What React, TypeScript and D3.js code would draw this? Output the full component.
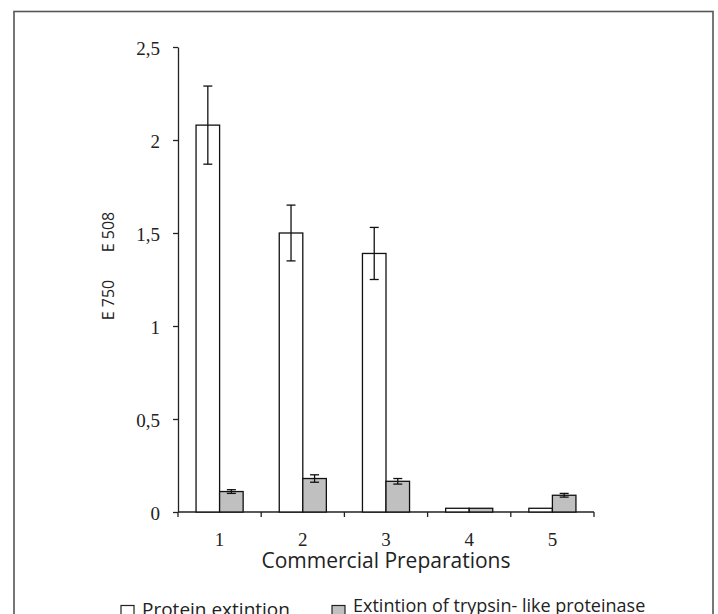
import { useEffect, useRef } from "react";
import * as d3 from "d3";

const categories = ["1", "2", "3", "4", "5"];
const proteinValues = [2.08, 1.5, 1.39, 0.02, 0.02];
const proteinErrors = [0.21, 0.15, 0.14, 0, 0];
const trypsinValues = [0.11, 0.18, 0.165, 0.02, 0.09];
const trypsinErrors = [0.01, 0.02, 0.015, 0, 0.01];
const yTicks = [0, 0.5, 1, 1.5, 2, 2.5];

const W = 718;
const H = 614;
const PLOT = { left: 178, right: 594, top: 47, bottom: 512 };

export default function App() {
  const svgRef = useRef<SVGSVGElement>(null);

  useEffect(() => {
    if (!svgRef.current) return;
    const svg = d3.select(svgRef.current);
    svg.selectAll("*").remove();

    // frame
    svg
      .append("rect")
      .attr("x", 14)
      .attr("y", 11.5)
      .attr("width", 699)
      .attr("height", H)
      .attr("fill", "#fff")
      .attr("stroke", "#555")
      .attr("stroke-width", 1.6);

    const x = d3
      .scaleBand<string>()
      .domain(categories)
      .range([PLOT.left, PLOT.right])
      .padding(0);

    const y = d3
      .scaleLinear()
      .domain([0, 2.5])
      .range([PLOT.bottom, PLOT.top]);

    const barW = x.bandwidth() * 0.283;

    // Y axis
    const yAxis = svg
      .append("g")
      .attr("transform", `translate(${PLOT.left},0)`)
      .call(
        d3
          .axisLeft(y)
          .tickValues(yTicks)
          .tickSize(5)
          .tickSizeOuter(0)
          .tickPadding(13)
          .tickFormat((d) => String(d).replace(".", ","))
      );
    yAxis.select(".domain").attr("stroke", "#222").attr("stroke-width", 1.3);
    yAxis.selectAll(".tick line").attr("stroke", "#222").attr("stroke-width", 1.3);
    yAxis
      .selectAll(".tick text")
      .attr("fill", "#222")
      .attr("font-family", "'Liberation Serif', serif")
      .attr("font-size", 19)
      .attr("dy", "0.38em");

    // X axis baseline and boundary ticks
    const xg = svg.append("g");
    xg.append("line")
      .attr("x1", PLOT.left)
      .attr("x2", PLOT.right)
      .attr("y1", PLOT.bottom)
      .attr("y2", PLOT.bottom)
      .attr("stroke", "#222")
      .attr("stroke-width", 1.3);
    const boundaries = [...categories.map((c) => x(c) as number), PLOT.right];
    xg.selectAll("line.tk")
      .data(boundaries)
      .join("line")
      .attr("class", "tk")
      .attr("x1", (d) => d)
      .attr("x2", (d) => d)
      .attr("y1", PLOT.bottom)
      .attr("y2", PLOT.bottom + 5)
      .attr("stroke", "#222")
      .attr("stroke-width", 1.3);
    xg.selectAll("text.lbl")
      .data(categories)
      .join("text")
      .attr("class", "lbl")
      .attr("x", (d) => (x(d) as number) + x.bandwidth() / 2)
      .attr("y", 546)
      .attr("text-anchor", "middle")
      .attr("fill", "#222")
      .attr("font-family", "'Liberation Serif', serif")
      .attr("font-size", 19)
      .text((d) => d);

    // bars
    const series = [
      { values: proteinValues, errors: proteinErrors, fill: "#fff", offset: -1 },
      { values: trypsinValues, errors: trypsinErrors, fill: "#c0c0c0", offset: 0 },
    ];

    series.forEach((s) => {
      const g = svg.append("g");
      const bx = (i: number) =>
        (x(categories[i]) as number) + x.bandwidth() / 2 + s.offset * barW;
      g.selectAll("rect")
        .data(s.values)
        .join("rect")
        .attr("x", (_, i) => bx(i))
        .attr("y", (d) => y(d))
        .attr("width", barW)
        .attr("height", (d) => y(0) - y(d))
        .attr("fill", s.fill)
        .attr("stroke", "#111")
        .attr("stroke-width", 1.3);

      s.values.forEach((v, i) => {
        const e = s.errors[i];
        if (!e) return;
        const cx = bx(i) + barW / 2;
        const cap = 4.5;
        const eg = g.append("g").attr("stroke", "#111").attr("stroke-width", 1.3);
        eg.append("line")
          .attr("x1", cx)
          .attr("x2", cx)
          .attr("y1", y(v + e))
          .attr("y2", y(v - e));
        [v + e, v - e].forEach((t) =>
          eg
            .append("line")
            .attr("x1", cx - cap)
            .attr("x2", cx + cap)
            .attr("y1", y(t))
            .attr("y2", y(t))
        );
      });
    });

    // axis titles
    svg
      .append("text")
      .attr("x", (PLOT.left + PLOT.right) / 2)
      .attr("y", 568)
      .attr("text-anchor", "middle")
      .attr("fill", "#222")
      .attr("font-family", "'Open Sans', sans-serif")
      .attr("font-size", 21)
      .text("Commercial Preparations");

    [
      { label: "E 508", cy: 232 },
      { label: "E 750", cy: 300 },
    ].forEach((t) =>
      svg
        .append("text")
        .attr("transform", `translate(114,${t.cy}) rotate(-90)`)
        .attr("text-anchor", "middle")
        .attr("fill", "#222")
        .attr("font-family", "'Open Sans', sans-serif")
        .attr("font-size", 16)
        .text(t.label)
    );

    // legend
    const legend = [
      { label: "Protein extintion", fill: "#fff", x: 121, base: 615.5, size: 19 },
      { label: "Extintion of trypsin- like proteinase", fill: "#c0c0c0", x: 332, base: 612, size: 18 },
    ];
    legend.forEach((l) => {
      svg
        .append("rect")
        .attr("x", l.x)
        .attr("y", 605.5)
        .attr("width", 13)
        .attr("height", 13)
        .attr("fill", l.fill)
        .attr("stroke", "#222")
        .attr("stroke-width", 1.2);
      svg
        .append("text")
        .attr("x", l.x + 21)
        .attr("y", l.base)
        .attr("fill", "#222")
        .attr("font-family", "'Open Sans', sans-serif")
        .attr("font-size", l.size)
        .text(l.label);
    });
  }, []);

  return (
    <svg
      ref={svgRef}
      width={W}
      height={H}
      style={{ position: "absolute", left: 0, top: 0, background: "#fff" }}
    />
  );
}
